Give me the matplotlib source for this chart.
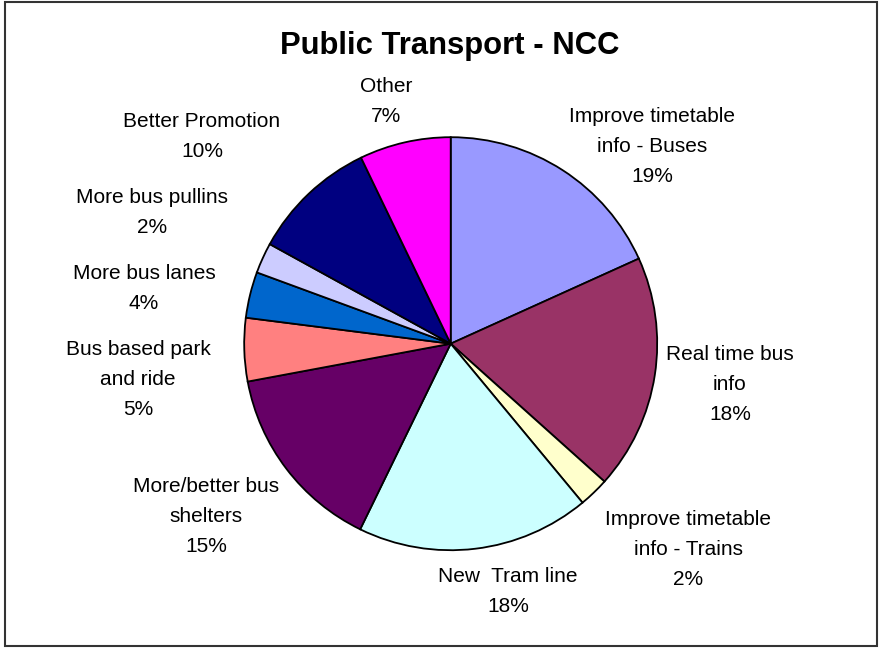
import matplotlib
matplotlib.use("Agg")
import matplotlib.pyplot as plt
from matplotlib.patches import Rectangle

plt.rcParams["font.family"] = ["Liberation Sans", "DejaVu Sans"]

# slice shares (clockwise from 12 o'clock)
categories = [
    "Improve timetable\ninfo - Buses",
    "Real time bus\ninfo",
    "Improve timetable\ninfo - Trains",
    "New  Tram line",
    "More/better bus\nshelters",
    "Bus based park\nand ride",
    "More bus lanes",
    "More bus pullins",
    "Better Promotion",
    "Other",
]
values = [18.25, 18.4, 2.35, 18.25, 14.85, 4.95, 3.6, 2.4, 9.85, 7.15]
pct_labels = ["19%", "18%", "2%", "18%", "15%", "5%", "4%", "2%", "10%", "7%"]
colors = ["#9999FF", "#993366", "#FFFFCC", "#CCFFFF", "#660066",
          "#FF8080", "#0066CC", "#CCCCFF", "#000080", "#FF00FF"]

# label centres in pixel coords (x, y of first line, from top)
label_pos = [(652, 115), (730, 353), (688, 518), (508, 575), (206, 485),
             (138, 348), (144, 272), (152, 196), (202, 120), (386, 85)]

W, H = 880, 648
fig = plt.figure(figsize=(W / 100, H / 100), dpi=100)
ax = fig.add_axes([0, 0, 1, 1])

# outer chart frame
ax.add_patch(Rectangle((5, H - 646), 872, 644, fill=False,
                       edgecolor="#333333", linewidth=1.5))

ax.pie(values, colors=colors, startangle=90, counterclock=False,
       center=(450.7, H - 343.7), radius=206.5, frame=True,
       wedgeprops=dict(edgecolor="black", linewidth=1.3))
ax.set_xlim(0, W)
ax.set_ylim(0, H)
ax.set_aspect("equal")
ax.axis("off")

for cat, pct, (x, y) in zip(categories, pct_labels, label_pos):
    ax.text(x, H - y + 8, cat + "\n" + pct, ha="center", va="top",
            fontsize=15, linespacing=1.72)

ax.text(449.5, H - 46, "Public Transport - NCC", ha="center", va="center",
        fontsize=22.3, fontweight="bold")

fig.savefig("out.png", dpi=100)
